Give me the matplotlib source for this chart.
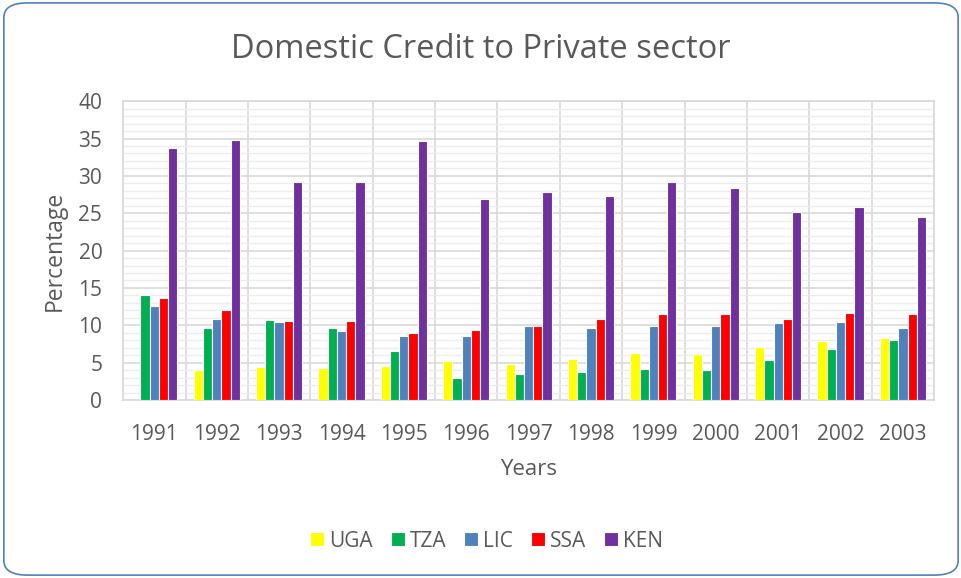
import matplotlib.pyplot as plt
import numpy as np
from matplotlib.patches import FancyBboxPatch

years = ['1991', '1992', '1993', '1994', '1995', '1996', '1997', '1998', '1999', '2000', '2001', '2002', '2003']
uga = [0, 3.95, 4.35, 4.3, 4.5, 5.2, 4.75, 5.55, 6.3, 6.15, 7.05, 7.85, 8.35]
tza = [14.0, 9.7, 10.7, 9.65, 6.6, 3.0, 3.5, 3.8, 4.1, 4.0, 5.3, 6.8, 8.0]
lic = [12.6, 10.85, 10.4, 9.25, 8.5, 8.6, 9.9, 9.65, 9.95, 9.9, 10.35, 10.5, 9.6]
ssa = [13.6, 12.0, 10.6, 10.6, 8.9, 9.4, 9.9, 10.85, 11.55, 11.55, 10.9, 11.6, 11.5]
ken = [33.7, 34.8, 29.2, 29.2, 34.6, 26.95, 27.9, 27.3, 29.2, 28.4, 25.2, 25.8, 24.5]

series = ['UGA', 'TZA', 'LIC', 'SSA', 'KEN']
colors = ['#FFFF00', '#00B050', '#4F81BD', '#FF0000', '#7030A0']
values = [uga, tza, lic, ssa, ken]

plt.rcParams['font.family'] = ['Open Sans', 'DejaVu Sans']
fig = plt.figure(figsize=(9.62, 5.78), dpi=100)
border = FancyBboxPatch((0.004, 0.005), 0.992, 0.99, boxstyle='round,pad=0,rounding_size=0.025',
                        transform=fig.transFigure, facecolor='white', edgecolor='#4F81BD', linewidth=1.2, zorder=-10)
fig.patches.append(border)
ax = fig.add_axes([0.128, 0.308, 0.843, 0.517])
ax.set_facecolor('none')

x = np.arange(len(years))
w = 0.148
for i, (name, vals, c) in enumerate(zip(series, values, colors)):
    ax.bar(x + (i - 2) * w, vals, width=w, color=c, edgecolor='white', linewidth=0.8, label=name, zorder=3)

ax.set_xlim(-0.5, len(years) - 0.5)
ax.set_ylim(0, 40)
ax.set_yticks(np.arange(0, 41, 5))
ax.set_yticks(np.arange(0, 41, 1), minor=True)
ax.set_xticks(x)
ax.set_xticklabels(years)
ax.set_xticks(np.arange(-0.5, len(years), 1), minor=True)
ax.grid(which='major', axis='y', color='#D9D9D9', linewidth=1.2, zorder=0)
ax.grid(which='minor', axis='y', color='#EDEDED', linewidth=1.0, zorder=0)
ax.grid(which='minor', axis='x', color='#D9D9D9', linewidth=1.2, zorder=0)
ax.tick_params(which='both', length=0)
ax.tick_params(axis='both', labelsize=15, colors='#595959')
ax.tick_params(axis='x', pad=17)
ax.tick_params(axis='y', pad=15)
for s in ['top', 'right', 'left', 'bottom']:
    ax.spines[s].set_color('#D9D9D9')
    ax.spines[s].set_linewidth(1.2)

ax.set_xlabel('Years', fontsize=16, color='#595959')
ax.xaxis.set_label_coords(0.5, -0.231)
ax.xaxis.label.set_va('center')
ax.set_ylabel('Percentage', fontsize=16.5, color='#595959')
ax.yaxis.set_label_coords(-0.0838, 0.5)
ax.yaxis.label.set_va('center')
fig.text(0.5, 0.915, 'Domestic Credit to Private sector', ha='center', va='center', fontsize=23.5, color='#595959')

leg = fig.legend(loc='center', bbox_to_anchor=(0.506, 0.064), ncol=5, frameon=False, fontsize=15,
                 handlelength=0.67, handleheight=0.67, handletextpad=0.25, columnspacing=0.85)
for t in leg.get_texts():
    t.set_color('#595959')

fig.savefig('out.png', dpi=100)
